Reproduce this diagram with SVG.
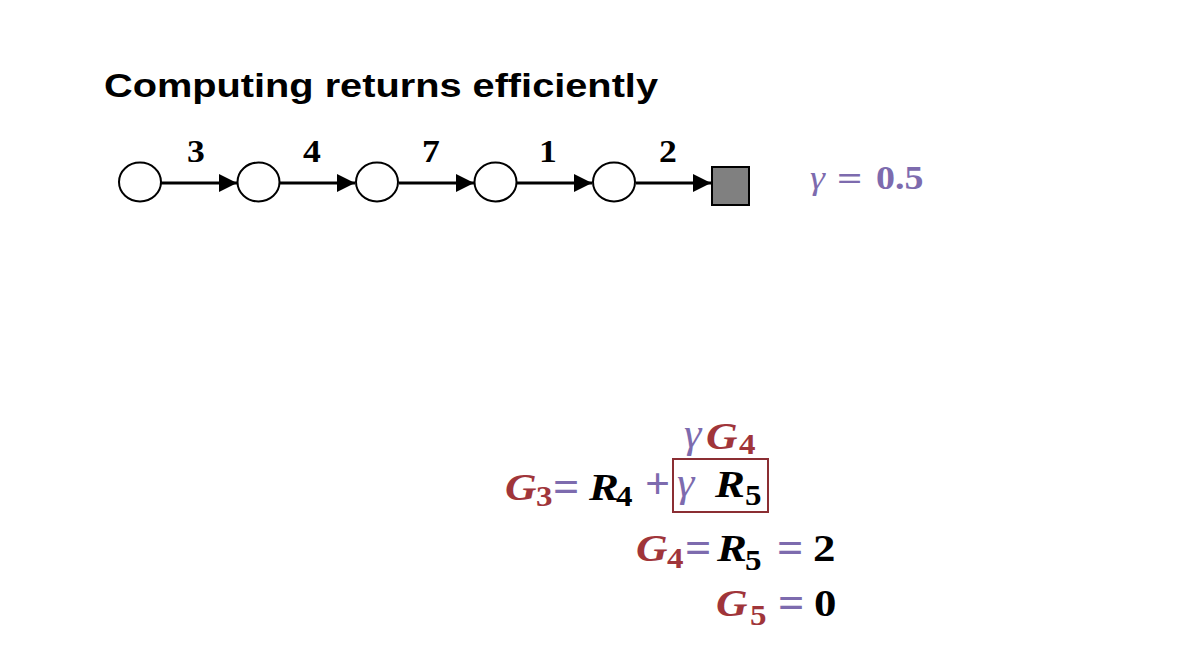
<svg xmlns="http://www.w3.org/2000/svg" width="1184" height="664" viewBox="0 0 1184 664">
<defs>
<style>
.title{font-family:"Liberation Sans",Arial,sans-serif;font-weight:bold;font-size:33px;fill:#000}
.node{fill:#fff;stroke:#000;stroke-width:2}
.term{fill:#808080;stroke:#000;stroke-width:2}
.edge{stroke:#000;stroke-width:3;fill:none}
.lbl{font-family:"Liberation Serif","Times New Roman",serif;font-weight:bold;font-size:31px;fill:#000;text-anchor:middle}
.m{font-family:"Liberation Serif","Times New Roman",serif;font-size:39px}
.op{font-family:"Liberation Serif","Times New Roman",serif;font-size:44px;font-weight:bold}
.gm{font-family:"Liberation Serif","Times New Roman",serif;font-size:42px;font-style:italic}
.bi{font-weight:bold;font-style:italic}
.b{font-weight:bold}
.i{font-style:italic}
.sub{font-family:"Liberation Serif","Times New Roman",serif;font-size:30px;font-weight:bold}
.red{fill:#a0353a}
.pur{fill:#7d6bae}
.blk{fill:#000}
.g{font-family:"Liberation Serif","Times New Roman",serif;font-size:33px}
</style>
<marker id="ah" markerUnits="userSpaceOnUse" markerWidth="18" markerHeight="18" refX="18" refY="9" orient="auto">
<path d="M0,0 L18,9 L0,18 z" fill="#000"/>
</marker>
</defs>
<rect width="1184" height="664" fill="#fff"/>
<g id="title">
<text class="title" x="104" y="97" textLength="554" lengthAdjust="spacingAndGlyphs">Computing returns efficiently</text>
</g>
<g id="connectors">
<line class="edge" x1="161" y1="183" x2="237" y2="183" marker-end="url(#ah)"/>
<line class="edge" x1="280" y1="183" x2="355" y2="183" marker-end="url(#ah)"/>
<line class="edge" x1="399" y1="183" x2="474" y2="183" marker-end="url(#ah)"/>
<line class="edge" x1="517" y1="183" x2="592" y2="183" marker-end="url(#ah)"/>
<line class="edge" x1="636" y1="183" x2="711" y2="183" marker-end="url(#ah)"/>
<text class="lbl" transform="matrix(1.15 0 0 1 196 162)">3</text>
<text class="lbl" transform="matrix(1.15 0 0 1 312 162)">4</text>
<text class="lbl" transform="matrix(1.15 0 0 1 431 162)">7</text>
<text class="lbl" transform="matrix(1.15 0 0 1 548 162)">1</text>
<text class="lbl" transform="matrix(1.15 0 0 1 668 162)">2</text>
</g>
<g id="s1"><ellipse class="node" cx="140" cy="182" rx="21" ry="19.5"/></g>
<g id="s2"><ellipse class="node" cx="258.5" cy="182" rx="21" ry="19.5"/></g>
<g id="s3"><ellipse class="node" cx="377" cy="182" rx="21" ry="19.5"/></g>
<g id="s4"><ellipse class="node" cx="495.5" cy="182" rx="21" ry="19.5"/></g>
<g id="s5"><ellipse class="node" cx="614" cy="182" rx="21" ry="19.5"/></g>
<g id="terminal"><rect class="term" x="712" y="167" width="37" height="38"/></g>
<g id="gamma">
<text class="g i pur" transform="matrix(1.15 0 0 1 810 189)">γ</text>
<text class="g b pur" transform="matrix(1.35 0 0 1 837 190)">=</text>
<text class="g b pur" transform="matrix(1.15 0 0 1 876 189)">0.5</text>
</g>
<g id="eq1">
<text class="m bi red" transform="matrix(1.12 0 0 1 505 500)">G</text>
<text class="sub red" transform="matrix(1.1 0 0 1 536 506)">3</text>
<text class="op pur" transform="matrix(1.05 0 0 1 553 501)">=</text>
<text class="m bi blk" transform="matrix(1.15 0 0 1 589 500)">R</text>
<text class="sub blk" transform="matrix(1.1 0 0 1 616 506)">4</text>
<text class="op pur" transform="matrix(1.0 0 0 1 645 498)">+</text>
<rect x="673" y="459" width="95" height="53" fill="none" stroke="#8b2e33" stroke-width="2"/>
<text class="gm pur" transform="matrix(1.05 0 0 1 677 496)">γ</text>
<text class="m bi blk" transform="matrix(1.15 0 0 1 715 497)">R</text>
<text class="sub blk" transform="matrix(1.1 0 0 1 745 505)">5</text>
<text class="gm pur" transform="matrix(1.05 0 0 1 684 447)">γ</text>
<text class="m bi red" transform="matrix(1.12 0 0 1 706 449)">G</text>
<text class="sub red" transform="matrix(1.1 0 0 1 739 454)">4</text>
</g>
<g id="eq2">
<text class="m bi red" transform="matrix(1.12 0 0 1 636 561)">G</text>
<text class="sub red" transform="matrix(1.1 0 0 1 667 568)">4</text>
<text class="op pur" transform="matrix(1.05 0 0 1 685 562)">=</text>
<text class="m bi blk" transform="matrix(1.15 0 0 1 717 561)">R</text>
<text class="sub blk" transform="matrix(1.1 0 0 1 745 570)">5</text>
<text class="op pur" transform="matrix(1.05 0 0 1 777 562)">=</text>
<text class="m b blk" transform="matrix(1.15 0 0 1 813 561)">2</text>
</g>
<g id="eq3">
<text class="m bi red" transform="matrix(1.12 0 0 1 716 616)">G</text>
<text class="sub red" transform="matrix(1.1 0 0 1 750 625)">5</text>
<text class="op pur" transform="matrix(1.05 0 0 1 778 617)">=</text>
<text class="m b blk" transform="matrix(1.15 0 0 1 814 616)">0</text>
</g>
</svg>
